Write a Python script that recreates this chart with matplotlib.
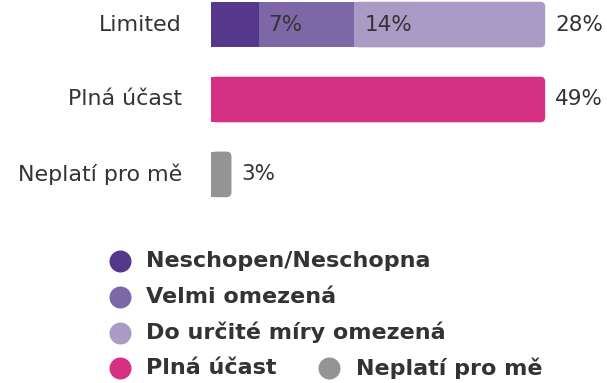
import matplotlib
matplotlib.use("Agg")
import matplotlib.pyplot as plt
from matplotlib.patches import FancyBboxPatch, Rectangle

# --- data -------------------------------------------------------------
categories = ["Limited", "Plná účast", "Neplatí pro mě"]
series_names = ["Neschopen/Neschopna", "Velmi omezená",
                "Do určité míry omezená", "Plná účast", "Neplatí pro mě"]
neschopen = [7, 0, 0]
velmi_omezena = [14, 0, 0]
do_urcite_miry = [28, 0, 0]
plna_ucast = [0, 49, 0]
neplati = [0, 0, 3]
series_values = [neschopen, velmi_omezena, do_urcite_miry, plna_ucast, neplati]
colors = ["#55378b", "#7e67a7", "#aa9ac6", "#d63085", "#949494"]

TEXT = "#333333"
W, H, DPI = 607, 383, 100

fig = plt.figure(figsize=(W / DPI, H / DPI), dpi=DPI)
fig.patch.set_facecolor("white")

# plotting area in pixel terms
px_per_unit_x = 6.82
row_step_px = 74.75
ax_left, ax_top, ax_h = 211, 0, 222
ax = fig.add_axes([ax_left / W, 1 - (ax_top + ax_h) / H, (W - ax_left) / W, ax_h / H])
ax.set_xlim(0, (W - ax_left) / px_per_unit_x)
ax.set_ylim(2 + (ax_h - 174.5) / row_step_px, -24.5 / row_step_px)
ax.axis("off")

bar_h = 45.5 / row_step_px
radius = 5 / px_per_unit_x
aspect = px_per_unit_x / row_step_px
ypos = list(range(len(categories)))

left = [0.0] * len(categories)
last_patch = [None] * len(categories)
for name, vals, col in zip(series_names, series_values, colors):
    bars = ax.barh(ypos, vals, left=left, height=bar_h, color=col,
                   linewidth=0, label=name)
    for i, (b, v) in enumerate(zip(bars, vals)):
        if v <= 0:
            b.set_visible(False)
            continue
        last_patch[i] = b
        end = left[i] + v
        ax.annotate(f"{v}%", xy=(end, i), xytext=(10, 0),
                    textcoords="offset pixels", ha="left", va="center",
                    fontsize=15.5, color=TEXT)
    left = [l + v for l, v in zip(left, vals)]

# round the right end of every bar
for b in last_patch:
    if b is None:
        continue
    x0, y0, w, h = b.get_x(), b.get_y(), b.get_width(), b.get_height()
    col = b.get_facecolor()
    b.set_visible(False)
    ax.add_patch(FancyBboxPatch((x0, y0), w, h,
                                boxstyle=f"round,pad=0,rounding_size={radius}",
                                mutation_aspect=aspect, facecolor=col,
                                edgecolor="none"))
    ax.add_patch(Rectangle((x0, y0), max(w - radius, 0), h,
                           facecolor=col, edgecolor="none"))

# category labels
for i, cat in enumerate(categories):
    ax.annotate(cat, xy=(0, i), xytext=(-29, 0), textcoords="offset pixels",
                ha="right", va="center", fontsize=15.9, color=TEXT)

# --- legend -----------------------------------------------------------
lax = fig.add_axes([0, 0, 1, 1])
lax.set_xlim(0, W)
lax.set_ylim(H, 0)
lax.axis("off")
lax.patch.set_alpha(0)

legend_slots = [(119.5, 261), (119.5, 297), (119.5, 332.5),
                (119.5, 368), (329, 368)]
for (mx, my), name, col in zip(legend_slots, series_names, colors):
    lax.scatter([mx], [my], s=(22 * 0.72) ** 2, color=col, linewidths=0)
    lax.text(mx + 27, my, name, ha="left", va="center",
             fontsize=16, fontweight="bold", color=TEXT)

fig.savefig("out.png", dpi=DPI, facecolor="white")
